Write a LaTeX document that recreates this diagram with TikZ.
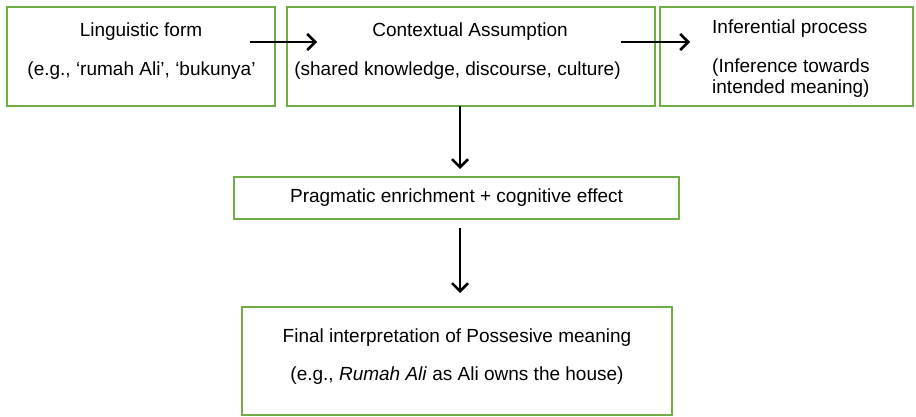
\documentclass[tikz,border=0pt]{standalone}
\usepackage{fontspec}
\setmainfont{Liberation Sans}
\usetikzlibrary{arrows.meta}
\definecolor{boxgreen}{HTML}{70AD47}
\begin{document}
\begin{tikzpicture}[x=1pt,y=-1pt,
  box/.style={draw=boxgreen,line width=2pt,rectangle,inner sep=0pt,fill=none},
  txt/.style={inner sep=0pt,font=\fontsize{19}{23}\selectfont,anchor=base},
  ltxt/.style={txt,anchor=base west},
  arr/.style={line width=2.5pt,-{Straight Barb[length=8pt,width=16pt,line width=2.5pt]}}]
\useasboundingbox (0,0) rectangle (916,417);
% boxes
\node[box,minimum width=268pt,minimum height=99pt] (b1) at (141,56.5) {};
\node[box,minimum width=368pt,minimum height=99pt] (b2) at (470.5,56.5) {};
\node[box,minimum width=253pt,minimum height=99pt] (b3) at (786.5,56.5) {};
\node[box,minimum width=445pt,minimum height=42pt] (b4) at (456.5,198) {};
\node[box,minimum width=430pt,minimum height=108pt] (b5) at (457,361) {};
% texts
\node[txt] (t1a) at (141,37) {Linguistic form};
\node[txt] (t1b) at (141.5,76) {(e.g., ‘rumah Ali’, ‘bukunya’};
\node[txt] (t2a) at (470,37) {Contextual Assumption};
\node[txt] (t2b) at (457.5,76) {(shared knowledge, discourse, culture)};
\node[ltxt] (t3a) at (712,34) {Inferential process};
\node[ltxt] (t3b) at (712,73) {(Inference towards};
\node[ltxt] (t3c) at (712,94) {intended meaning)};
\node[txt] (t4) at (456.5,203) {Pragmatic enrichment + cognitive effect};
\node[txt] (t5a) at (457,342) {Final interpretation of Possesive meaning};
\node[txt] (t5b) at (457,380) {(e.g., \textit{Rumah Ali} as Ali owns the house)};
% connector ends
\coordinate (a1s) at (250,42);
\coordinate (a1e) at (317,42);
\coordinate (a2s) at (621,42);
\coordinate (a2e) at (690,42);
\coordinate (a3s) at (460,106);
\coordinate (a3e) at (460,169);
\coordinate (a4s) at (460,228);
\coordinate (a4e) at (460,293);
\draw[arr] (a1s) -- (a1e);
\draw[arr] (a2s) -- (a2e);
\draw[arr] (a3s) -- (a3e);
\draw[arr] (a4s) -- (a4e);
\end{tikzpicture}
\end{document}
